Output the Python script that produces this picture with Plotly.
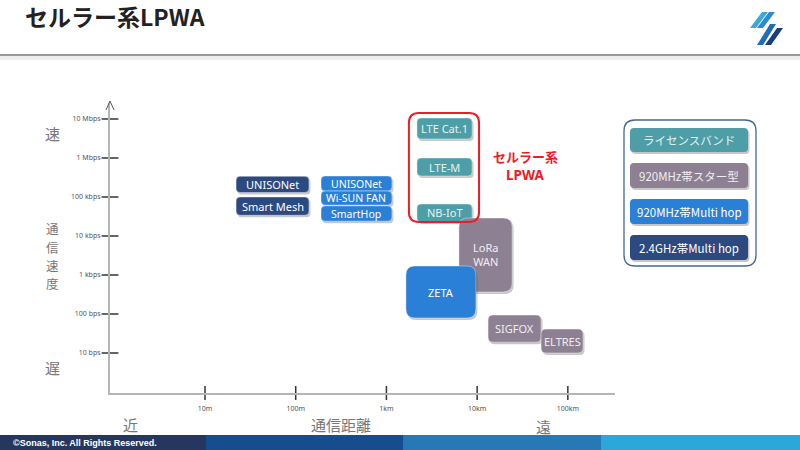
import numpy as np
import plotly.graph_objects as go

# ---------------- data ----------------
tech_names = ["UNISONet", "Smart Mesh", "UNISONet", "Wi-SUN FAN", "SmartHop",
              "LTE Cat.1", "LTE-M", "NB-IoT", "LoRa<br>WAN", "ZETA", "SIGFOX", "ELTRES"]
tech_group = [3, 3, 2, 2, 2, 0, 0, 0, 1, 2, 1, 1]
dist_min_m = [22, 22, 190, 190, 190, 2170, 2170, 2170, 6300, 1640, 13200, 50700]
dist_max_m = [140, 140, 1150, 1150, 1150, 8800, 8800, 8800, 24300, 9700, 50700, 147000]
rate_min_bps = [130e3, 34e3, 142e3, 62e3, 24e3, 3.07e6, 345e3, 23e3, 366, 79, 19, 10]
rate_max_bps = [340e3, 100e3, 345e3, 142e3, 59e3, 10.6e6, 1.0e6, 66e3, 29e3, 1700, 94, 41]
tech_radius_px = [4, 4, 4, 4, 4, 4, 4, 4, 9, 9, 5, 5]

cellular_dist_m = [1770, 10500]
cellular_rate_bps = [22.8e3, 14.3e6]

legend_labels = ["ライセンスバンド", "920MHz帯スター型", "920MHz帯Multi hop", "2.4GHz帯Multi hop"]
group_colors = ["#4d9ea6", "#8d8093", "#2a7fd6", "#2c4a7f"]
group_text = ["#e6f3f4", "#f1eef3", "#ffffff", "#ffffff"]

x_tickvals = [1, 2, 3, 4, 5]
x_ticktext = ["10m", "100m", "1km", "10km", "100km"]
y_tickvals = [1, 2, 3, 4, 5, 6, 7]
y_ticktext = ["10 bps", "100 bps", "1 kbps", "10 kbps", "100 kbps", "1 Mbps", "10 Mbps"]

# ---------------- layout geometry ----------------
W, H = 800, 450
X_PX = (110, 615)
Y_PX = (103, 393)
XR = (-0.0474, 5.520)
YR = (-0.0256, 7.41)
sx = (X_PX[1] - X_PX[0]) / (XR[1] - XR[0])
sy = (Y_PX[1] - Y_PX[0]) / (YR[1] - YR[0])

JP = "Noto Sans CJK JP"
LAT = "Noto Sans"


def px(x):
    return x / W


def py(y):
    return 1 - y / H


def rr_path(x0, x1, y0, y1, rx, ry):
    return (f"M{x0+rx},{y0} L{x1-rx},{y0} Q{x1},{y0} {x1},{y0+ry} "
            f"L{x1},{y1-ry} Q{x1},{y1} {x1-rx},{y1} L{x0+rx},{y1} "
            f"Q{x0},{y1} {x0},{y1-ry} L{x0},{y0+ry} Q{x0},{y0} {x0+rx},{y0} Z")


def paper_rr(x0, y0, x1, y1, r):
    return rr_path(px(x0), px(x1), py(y1), py(y0), r / W, r / H)


def ptext(x, y, text, font, xanchor="center"):
    return dict(x=px(x), y=py(y), xref="paper", yref="paper", text=text,
                showarrow=False, xanchor=xanchor, yanchor="middle", font=font,
                borderpad=0)


shapes = []
annotations = []

# ---------------- technology boxes (data coords) ----------------
lx0 = np.log10(dist_min_m)
lx1 = np.log10(dist_max_m)
ly0 = np.log10(rate_min_bps)
ly1 = np.log10(rate_max_bps)

for i, name in enumerate(tech_names):
    r = tech_radius_px[i]
    rx, ry = r / sx, r / sy
    dx, dy = 1.5 / sx, 2.0 / sy
    shapes.append(dict(type="path", xref="x", yref="y", layer="above",
                       path=rr_path(lx0[i] + dx, lx1[i] + dx, ly0[i] - dy, ly1[i] - dy, rx, ry),
                       fillcolor="rgba(0,0,0,0.22)", line=dict(width=0)))
    shapes.append(dict(type="path", xref="x", yref="y", layer="above",
                       path=rr_path(lx0[i], lx1[i], ly0[i], ly1[i], rx, ry),
                       fillcolor=group_colors[tech_group[i]],
                       line=dict(width=0.8, color="rgba(255,255,255,0.5)")))
    annotations.append(dict(x=(lx0[i] + lx1[i]) / 2, y=(ly0[i] + ly1[i]) / 2,
                            xref="x", yref="y", text=name, showarrow=False,
                            xanchor="center", yanchor="middle", borderpad=0,
                            font=dict(family=LAT, size=11 if tech_group[i] != 2 or i == 9 else 10.5,
                                      color=group_text[tech_group[i]])))

# cellular LPWA outline
cx0, cx1 = np.log10(cellular_dist_m)
cy0, cy1 = np.log10(cellular_rate_bps)
shapes.append(dict(type="path", xref="x", yref="y", layer="above",
                   path=rr_path(cx0, cx1, cy0, cy1, 10 / sx, 10 / sy),
                   fillcolor="rgba(0,0,0,0)", line=dict(width=2, color="#ee1c25")))
annotations.append(ptext(525, 156, "<b>セルラー系</b>",
                         dict(family=JP, size=13, color="#ee1c25")))
annotations.append(ptext(525, 175, "<b>LPWA</b>",
                         dict(family=LAT, size=13.5, color="#ee1c25")))

# ---------------- legend panel ----------------
shapes.append(dict(type="path", xref="paper", yref="paper",
                   path=paper_rr(624, 120, 756, 266, 11),
                   fillcolor="white", line=dict(width=1.3, color="#44698f")))
leg_y = [(128, 152), (163, 188), (199, 224), (235, 260)]
for i, lab in enumerate(legend_labels):
    y0, y1 = leg_y[i]
    shapes.append(dict(type="path", xref="paper", yref="paper",
                       path=paper_rr(631.5, y0 + 2, 749.5, y1 + 2, 4),
                       fillcolor="rgba(0,0,0,0.22)", line=dict(width=0)))
    shapes.append(dict(type="path", xref="paper", yref="paper",
                       path=paper_rr(630, y0, 748, y1, 4),
                       fillcolor=group_colors[i], line=dict(width=0)))
    annotations.append(ptext(689, (y0 + y1) / 2, lab,
                             dict(family=JP, size=11.5, color=group_text[i])))

# ---------------- axis decorations ----------------
shapes.append(dict(type="path", xref="paper", yref="paper",
                   path=f"M{px(106)},{py(110)} L{px(110)},{py(101)} L{px(114)},{py(110)}",
                   line=dict(width=1, color="#555")))

axis_txt = dict(family=JP, size=15, color="#777")
small_axis_txt = dict(family=JP, size=12.5, color="#777")
annotations += [
    ptext(130, 424, "近", axis_txt),
    ptext(341, 424, "通信距離", axis_txt),
    ptext(543, 426, "遠", axis_txt),
    ptext(52, 133, "速", axis_txt),
    ptext(52, 229, "通", small_axis_txt),
    ptext(52, 247, "信", small_axis_txt),
    ptext(52, 265, "速", small_axis_txt),
    ptext(52, 283, "度", small_axis_txt),
    ptext(52, 367, "遅", axis_txt),
]

# ---------------- title bar ----------------
annotations.append(ptext(24, 16, "<b>セルラー系LPWA</b>",
                         dict(family=JP, size=23, color="#222"), xanchor="left"))
shapes.append(dict(type="rect", xref="paper", yref="paper", x0=0, x1=1,
                   y0=py(60), y1=py(56), fillcolor="#ededed", line=dict(width=0)))
shapes.append(dict(type="line", xref="paper", yref="paper", x0=0, x1=1,
                   y0=py(55), y1=py(55), line=dict(width=2, color="#9a9a9a")))

# logo stripes
logo = [
    ((762, 12), (768, 12), (756, 28), (750, 28), "#3aa9e0"),
    ((769, 12), (775, 12), (763, 28), (757, 28), "#2a8bd0"),
    ((770, 24), (776, 24), (763, 45), (757, 45), "#1f6db6"),
    ((777, 28), (783, 28), (771, 45), (765, 45), "#1e3d78"),
]
for p1, p2, p3, p4, c in logo:
    shapes.append(dict(type="path", xref="paper", yref="paper",
                       path=f"M{px(p1[0])},{py(p1[1])} L{px(p2[0])},{py(p2[1])} "
                            f"L{px(p3[0])},{py(p3[1])} L{px(p4[0])},{py(p4[1])} Z",
                       fillcolor=c, line=dict(width=0)))

# footer
foot = [(0, 206, "#25375f"), (206, 403, "#164d8f"), (403, 601, "#2779b5"), (601, 800, "#2ba7da")]
for x0, x1, c in foot:
    shapes.append(dict(type="rect", xref="paper", yref="paper", x0=px(x0), x1=px(x1),
                       y0=0, y1=py(435), fillcolor=c, line=dict(width=0)))
annotations.append(ptext(12, 442.5, "<b>©Sonas, Inc. All Rights Reserved.</b>",
                         dict(family="Liberation Sans Narrow, Liberation Sans", size=9,
                              color="white"), xanchor="left"))

# ---------------- figure ----------------
fig = go.Figure()
fig.add_trace(go.Scatter(x=x_tickvals, y=[YR[0]] * len(x_tickvals), mode="markers",
                         marker=dict(symbol="line-ns", size=10,
                                     line=dict(width=1.5, color="#333")),
                         cliponaxis=False, hoverinfo="skip", showlegend=False))
fig.add_trace(go.Scatter(x=[XR[0]] * len(y_tickvals), y=y_tickvals, mode="markers",
                         marker=dict(symbol="line-ew", size=12,
                                     line=dict(width=1.5, color="#333")),
                         cliponaxis=False, hoverinfo="skip", showlegend=False))

fig.update_layout(
    width=W, height=H, margin=dict(l=0, r=0, t=0, b=0),
    paper_bgcolor="white", plot_bgcolor="white",
    showlegend=False,
    xaxis=dict(domain=[px(X_PX[0]), px(X_PX[1])], range=list(XR), showgrid=False,
               zeroline=False, showline=True, linecolor="#b5b5b5", linewidth=2,
               tickvals=x_tickvals, ticktext=x_ticktext, ticks="outside", ticklen=8,
               tickcolor="rgba(0,0,0,0)", tickfont=dict(family=LAT, size=7, color="#555")),
    yaxis=dict(domain=[py(Y_PX[1]), py(Y_PX[0])], range=list(YR), showgrid=False,
               zeroline=False, showline=True, linecolor="#b5b5b5", linewidth=2,
               tickvals=y_tickvals, ticktext=y_ticktext, ticks="outside", ticklen=6,
               tickcolor="rgba(0,0,0,0)", tickfont=dict(family=LAT, size=7, color="#555")),
    shapes=shapes,
    annotations=annotations,
)

fig.write_html("out.html", config={"displayModeBar": False},
               post_script="document.body.style.margin='0px';")
